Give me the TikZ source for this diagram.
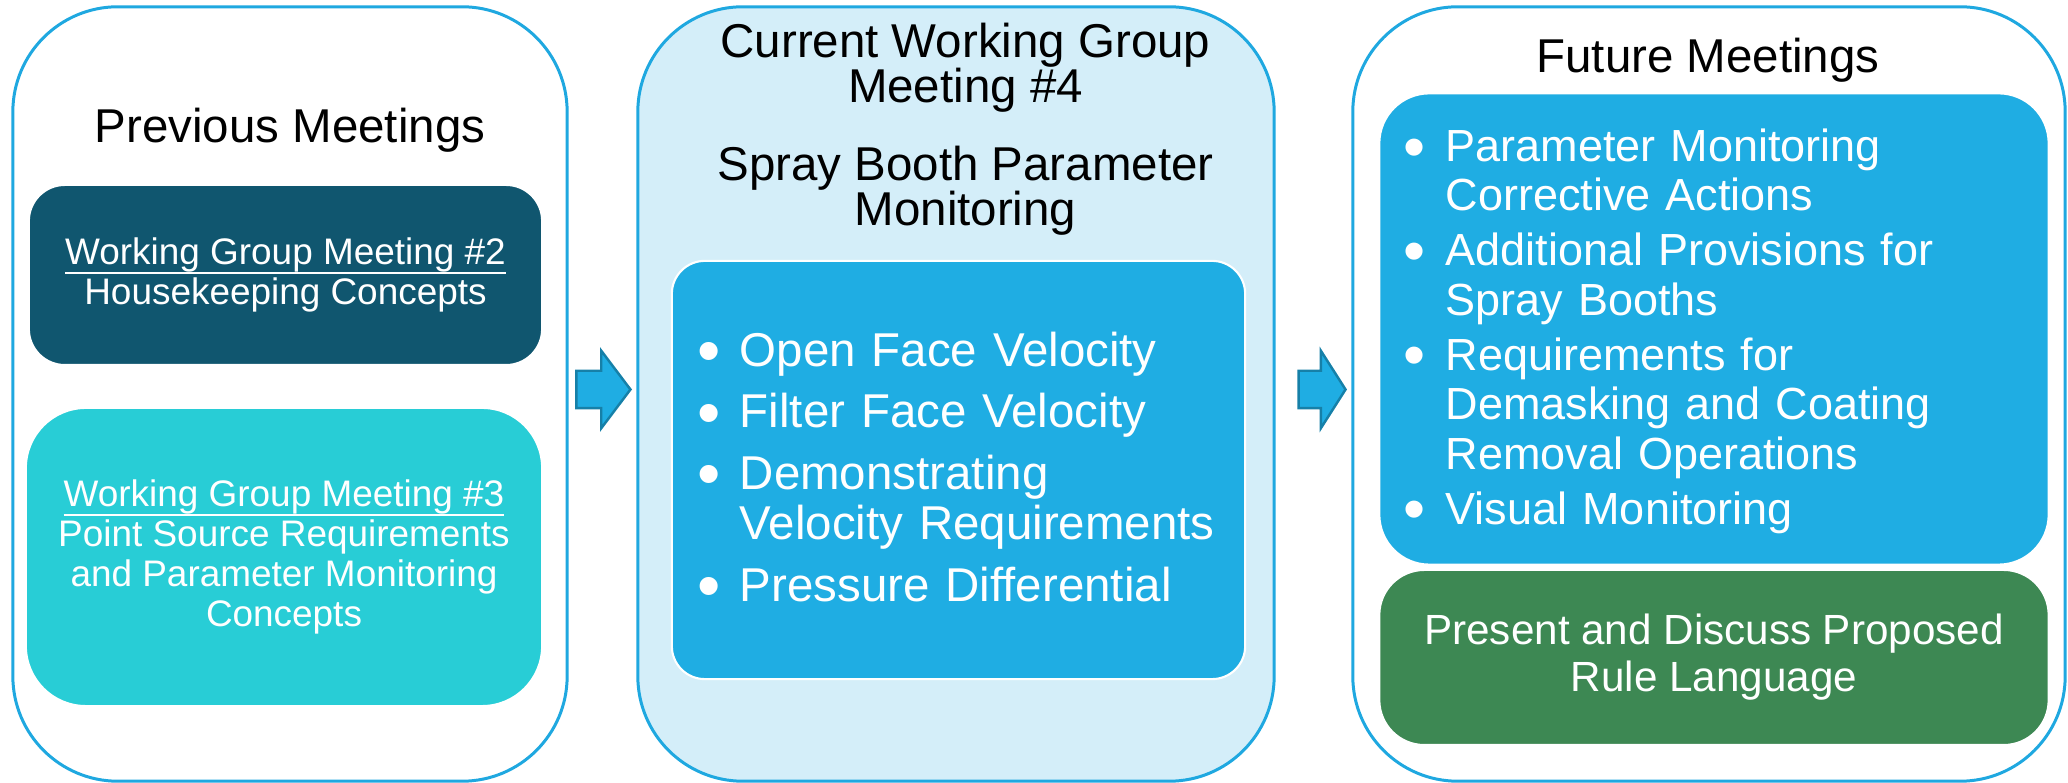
\documentclass[tikz,border=0pt]{standalone}
\usepackage{fontspec}
\setmainfont{Liberation Sans}
\usetikzlibrary{shapes.arrows}

\definecolor{rimblue}{HTML}{1FA8E0}
\definecolor{paleblue}{HTML}{D4EEF9}
\definecolor{listblue}{HTML}{1FADE3}
\definecolor{deepteal}{HTML}{10566F}
\definecolor{lightteal}{HTML}{28CDD6}
\definecolor{rulegreen}{HTML}{3D8853}
\definecolor{arrowrim}{HTML}{1680A8}

\newsavebox{\undlbox}
\newcommand{\undl}[1]{\sbox{\undlbox}{#1}\rlap{\rule[-2.7pt]{\wd\undlbox}{0.6pt}}\usebox{\undlbox}}
\newcommand{\dotmark}{\hspace*{-0.07em}\raisebox{-0.15em}{\scalebox{1.4}{\textbullet}}}
\newcommand{\bul}[1]{\par\noindent\hangindent=0.39cm\hangafter=1\makebox[0.39cm][l]{\dotmark}#1\par}

\begin{document}
\begin{tikzpicture}[x=0.01cm,y=-0.01cm,
        panel/.style={draw=rimblue,line width=0.85pt,rounded corners=1.05cm,minimum width=#1,minimum height=7.74cm,inner sep=0pt},
        tile/.style={draw=white,line width=0.6pt,inner sep=0pt,text=white},
        head/.style={font=\fontsize{13.5}{12.8}\selectfont,inner sep=0pt},
        small/.style={font=\fontsize{10.5}{11.3}\selectfont,align=center},
        listtext/.style={text=white,inner sep=0pt,text width=#1,align=left},
        flowarrow/.style={single arrow,draw=arrowrim,fill=listblue,line width=0.7pt,inner xsep=0pt,inner ysep=0.175cm,single arrow head extend=0.2cm,minimum height=#1,anchor=tip}]
            \useasboundingbox (0,0) rectangle (2068,783);

            \node[panel=5.54cm] (prev) at (290,394) {};
            \node[panel=6.36cm,fill=paleblue] (curr) at (956,394) {};
            \node[panel=7.12cm] (future) at (1709,394) {};

            \node[head,anchor=base] (prevtitle) at (290,143) {Previous Meetings};
            \node[head,align=center] (currtitle) at (965.5,129.5) {Current Working Group\\Meeting \#4\\[9.4pt]Spray Booth Parameter\\Monitoring};
            \node[head,anchor=base] (futtitle) at (1708,73) {Future Meetings};

            \node[tile,small,fill=deepteal,rounded corners=0.36cm,minimum width=5.13cm,minimum height=1.8cm] (wgtwo) at (285.5,275) {\undl{Working Group Meeting \#2}\\Housekeeping Concepts};
            \node[tile,small,fill=lightteal,rounded corners=0.6cm,minimum width=5.16cm,minimum height=2.98cm] (wgthree) at (284,557) {\undl{Working Group Meeting \#3}\\Point Source Requirements\\and Parameter Monitoring\\Concepts};

            \node[tile,fill=listblue,rounded corners=0.33cm,minimum width=5.73cm,minimum height=4.18cm] (currbox) at (958.5,470) {};
            \node[listtext=5.6cm,anchor=west,font=\fontsize{13.5}{14.2}\selectfont] (currlist) at (700,456.5) {\parskip=3.4pt
                \bul{Open Face Velocity}
                \bul{Filter Face Velocity}
                \bul{Demonstrating\newline Velocity Requirements}
                \bul{Pressure Differential}};

            \node[tile,fill=listblue,rounded corners=0.5cm,minimum width=6.69cm,minimum height=4.71cm] (futbox) at (1714,329) {};
            \node[listtext=6.3cm,anchor=west,font=\fontsize{12.8}{14.1}\selectfont] (futlist) at (1406,320) {\parskip=1.5pt
                \bul{Parameter Monitoring\newline Corrective Actions}
                \bul{Additional Provisions for\newline Spray Booths}
                \bul{Requirements for\newline Demasking and Coating\newline Removal Operations}
                \bul{Visual Monitoring}};
            \node[tile,fill=rulegreen,rounded corners=0.45cm,minimum width=6.69cm,minimum height=1.75cm,align=center,font=\fontsize{12}{13.4}\selectfont] (rulelang) at (1714,657.5) {Present and Discuss Proposed\\Rule Language};

            \node[flowarrow=0.54cm,single arrow tip angle=106] (arrowone) at (632,389.5) {};
            \node[flowarrow=0.47cm,single arrow tip angle=115] (arrowtwo) at (1347,389.5) {};
        \end{tikzpicture}
\end{document}
